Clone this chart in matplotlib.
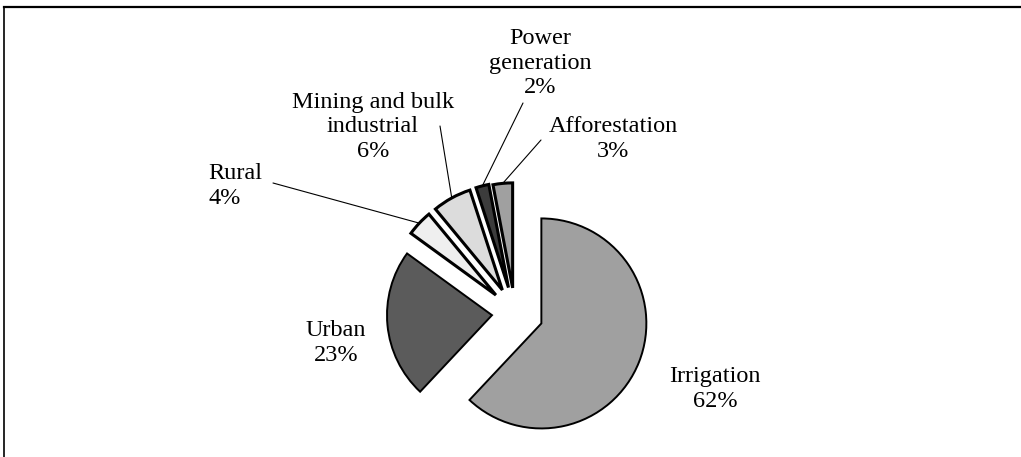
import matplotlib.pyplot as plt
import numpy as np

labels = ["Irrigation", "Urban", "Rural", "Mining and bulk\nindustrial",
          "Power\ngeneration", "Afforestation"]
shares = [62, 23, 4, 6, 2, 3]

colors = ["#a0a0a0", "#5b5b5b", "#efefef", "#dcdcdc", "#3c3c3c", "#a0a0a0"]
explode = [0.27, 0.22, 0.25, 0.25, 0.25, 0.24]
edge_lw = [1.4, 1.4, 2.2, 2.2, 2.2, 2.2]

# label anchors and leader start points, figure pixels (x, y from top)
label_pos = [(715, 389), (336, 343), (208, 186), (373, 127), (540, 63), (613, 139)]
label_align = ["center", "center", "left", "center", "center", "center"]
leader_start = [None, None, (273, 183), (440, 126), (523, 103), (541, 140)]

W, H = 1021, 457
CX, CY, R = 515, 313, 105   # pie centre and radius in pixels
LEFT, TOP = 4, 6.5          # frame position


def px(x, y):
    return (x - CX) / R, (CY - y) / R


plt.rcParams["font.family"] = ["Liberation Serif", "DejaVu Serif"]

fig = plt.figure(figsize=(W / 100, H / 100), dpi=100)
ax = fig.add_axes([LEFT / W, 0, (W - LEFT) / W, (H - TOP) / H])

wedges, _ = ax.pie(shares, colors=colors, explode=explode, startangle=90,
                   counterclock=False, radius=1.0,
                   wedgeprops=dict(edgecolor="black"))

for w, lw in zip(wedges, edge_lw):
    w.set_linewidth(lw)

for i, w in enumerate(wedges):
    lab = labels[i] + "\n" + f"{shares[i]}%"
    x, y = px(*label_pos[i])
    ax.text(x, y, lab, ha=label_align[i], va="center",
            multialignment=label_align[i], fontsize=17.5, linespacing=1.2)
    if leader_start[i] is not None:
        mid = np.deg2rad((w.theta1 + w.theta2) / 2)
        cx, cy = w.center
        end = (cx + w.r * np.cos(mid), cy + w.r * np.sin(mid))
        ax.annotate("", xy=end, xytext=px(*leader_start[i]),
                    arrowprops=dict(arrowstyle="-", lw=0.8, color="black",
                                    shrinkA=0, shrinkB=0))

ax.set_aspect("auto")
ax.set_xlim((LEFT - CX) / R, (W - CX) / R)
ax.set_ylim((CY - H) / R, (CY - TOP) / R)
ax.set_frame_on(True)
for side in ["right", "bottom"]:
    ax.spines[side].set_visible(False)
ax.spines["top"].set_linewidth(1.6)
ax.spines["left"].set_linewidth(1.2)
ax.set_xticks([])
ax.set_yticks([])

fig.savefig("out.png", dpi=100)
